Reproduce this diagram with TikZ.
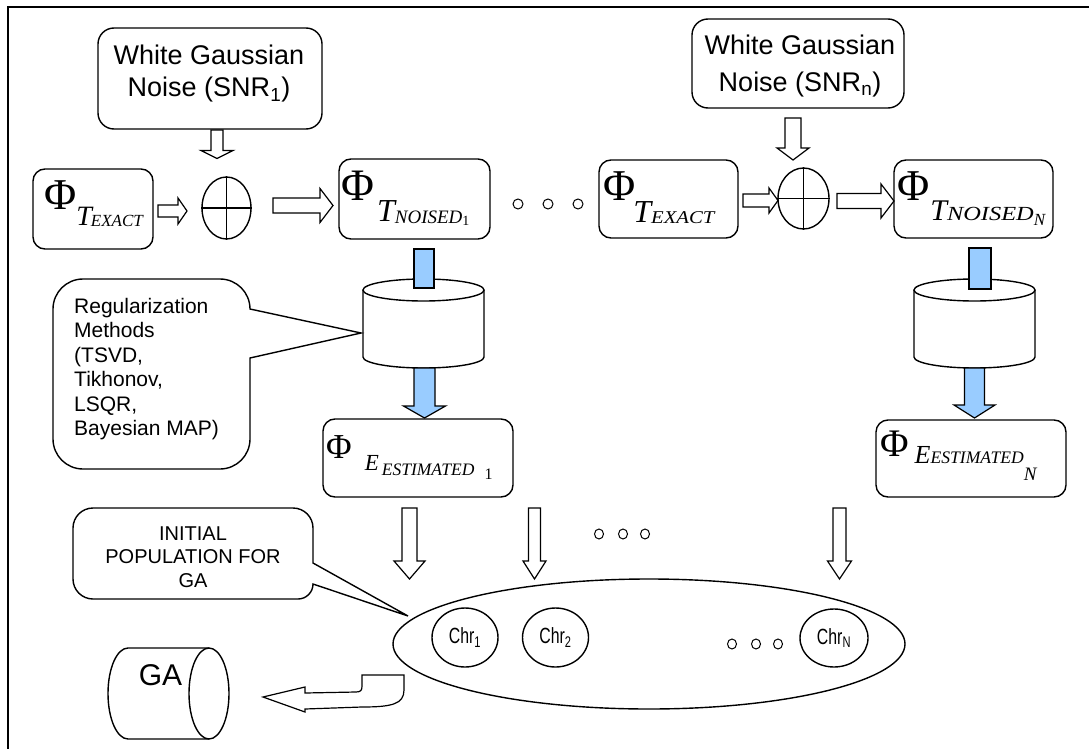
\documentclass[tikz,border=0pt]{standalone}
\usepackage{fontspec}
\usepackage{graphicx}
\setmainfont{Liberation Sans}
\newfontfamily\tms{Liberation Serif}
\newfontfamily\narrowsf[FakeStretch=0.72]{Liberation Sans}
\usetikzlibrary{calc,shapes.geometric}
\definecolor{lblue}{RGB}{153,204,255}
\newcommand\fs[2]{{\fontsize{#1}{#1}\selectfont #2}}
\newcommand\tsub[3]{\raisebox{-#1}{\itshape\fs{#2}{#3}}}
\newcommand\usub[3]{\raisebox{-#1}{\fs{#2}{#3}}}
% block arrow: [fill] {start}{end}{half shaft}{half head}{head length}
\newcommand\blk[6][white]{%
  \path ($#3!#6!#2$) coordinate (bkH);
  \draw[fill=#1, line width=1.2pt, line join=miter]
    ($#2!#4!90:#3$) -- ($(bkH)!#4!90:#3$) -- ($(bkH)!#5!90:#3$) -- #3
    -- ($(bkH)!#5!-90:#3$) -- ($(bkH)!#4!-90:#3$) -- ($#2!#4!-90:#3$) -- cycle;}
\begin{document}
\begin{tikzpicture}[x=1pt,y=-1pt,
  rbox/.style={draw, rounded corners=#1, line width=1.4pt, inner sep=0pt},
  rbox/.default=12pt,
  plusnode/.style={ellipse, draw, line width=1.4pt, inner sep=0pt},
  chr/.style={ellipse, draw, line width=1.4pt, inner sep=0pt, font=\narrowsf\fontsize{22}{22}\selectfont},
  dotc/.style={ellipse, draw, line width=1pt, inner sep=0pt, minimum width=9pt, minimum height=10pt},
  lab/.style={anchor=base west, inner sep=0pt},
  txt/.style={inner sep=0pt},
  shape line/.style={line width=1.4pt, fill=white},
]
\useasboundingbox (0,0) rectangle (1089,749);
% frame (top and left)
\draw[line width=1.5pt] (8,749) -- (8,7) -- (1089,7);

% noise boxes (base anchor = baseline of last line)
\node[rbox=16pt, minimum width=224pt, minimum height=101pt] (nz1) at (210,78.5) {};
\node[txt, anchor=base, align=center, font=\fontsize{27}{32}\selectfont] (nz1t) at (209,97)
  {White Gaussian\\Noise (SNR\textsubscript{1})};
\node[rbox=16pt, minimum width=212pt, minimum height=89pt] (nz2) at (798,63.5) {};
\node[txt, anchor=base, align=center, font=\fontsize{27}{37}\selectfont] (nz2t) at (800,92)
  {White Gaussian\\Noise (SNR\textsubscript{n})};

% phi boxes
\node[rbox, minimum width=120pt, minimum height=80pt] (ex1) at (93,209) {};
\node[lab] (ex1t) at (44,209) {\tms\fs{44}{Φ}\tsub{16pt}{28}{T}\kern-1pt\tsub{17pt}{17}{EXACT}};
\node[rbox, minimum width=151pt, minimum height=80pt] (no1) at (414.5,199) {};
\node[lab] (no1t) at (341,200) {\tms\fs{45}{Φ}\kern3pt\tsub{21pt}{32}{T}\tsub{23pt}{19}{NOISED}\usub{25pt}{14}{1}};
\node[rbox, minimum width=139pt, minimum height=78pt] (ex2) at (668.5,199) {};
\node[lab] (ex2t) at (603,200) {\tms\fs{44}{Φ}\kern-2pt\tsub{22pt}{32}{T}\raisebox{-23pt}{\scalebox{1.15}[1]{\itshape\fs{18}{EXACT}}}};
\node[rbox, minimum width=159pt, minimum height=78pt] (noN) at (973.5,199) {};
\node[lab] (noNt) at (897,200) {\tms\fs{44}{Φ}\kern1pt\tsub{20pt}{30}{T}\raisebox{-20pt}{\scalebox{1.22}[1]{\itshape\fs{20}{NOISED}}}\tsub{25pt}{17}{N}};

% plus circles
\node[plusnode, minimum width=49pt, minimum height=62pt] (pl1) at (226.5,208) {};
\draw[line width=1.4pt] (pl1.north) -- (pl1.south) (pl1.west) -- (pl1.east);
\node[plusnode, minimum width=51pt, minimum height=61pt] (pl2) at (803.5,198.5) {};
\draw[line width=1.4pt] (pl2.north) -- (pl2.south) (pl2.west) -- (pl2.east);

% dots in first row
\node[dotc, minimum width=10pt] (d1) at (518,204) {};
\node[dotc, minimum width=10pt] (d2) at (548,204) {};
\node[dotc, minimum width=10pt] (d3) at (578,204) {};

% hollow arrows, top row
\coordinate (a1s) at (217,130);   \coordinate (a1e) at (217,158.5);
\coordinate (a2s) at (158,211);   \coordinate (a2e) at (187,211);
\coordinate (a3s) at (273,205.5); \coordinate (a3e) at (333,205.5);
\coordinate (a4s) at (793,118);   \coordinate (a4e) at (793,160);
\coordinate (a5s) at (743,200.5); \coordinate (a5e) at (778,200.5);
\coordinate (a6s) at (837,201);   \coordinate (a6e) at (894,201);
\blk{(a1s)}{(a1e)}{6pt}{16pt}{8pt}
\blk{(a2s)}{(a2e)}{6pt}{13pt}{9pt}
\blk{(a3s)}{(a3e)}{7.5pt}{17pt}{13pt}
\blk{(a4s)}{(a4e)}{8pt}{16pt}{12pt}
\blk{(a5s)}{(a5e)}{6.5pt}{12.5pt}{9pt}
\blk{(a6s)}{(a6e)}{7.5pt}{17pt}{13pt}

% cylinders
\node[minimum width=121pt, minimum height=89pt, inner sep=0pt] (cy1) at (423.5,323.5) {};
\draw[shape line] (363,290) -- (363,357) arc[start angle=180,end angle=360,x radius=60.5pt,y radius=11pt] -- (484,290);
\draw[shape line] (423.5,290) ellipse[x radius=60.5pt,y radius=11pt];
\node[minimum width=121pt, minimum height=89pt, inner sep=0pt] (cy2) at (974.5,323.5) {};
\draw[shape line] (914,290) -- (914,357) arc[start angle=180,end angle=360,x radius=60.5pt,y radius=11pt] -- (1035,290);
\draw[shape line] (974.5,290) ellipse[x radius=60.5pt,y radius=11pt];

% blue connectors
\draw[fill=lblue, line width=1.2pt] (414,249) rectangle (434,288);
\draw[fill=lblue, line width=1.2pt] (969,248) rectangle (991,289);
\coordinate (c1s) at (424.5,368); \coordinate (c1e) at (424.5,418);
\coordinate (c2s) at (974.5,368); \coordinate (c2e) at (974.5,418);
\blk[lblue]{(c1s)}{(c1e)}{10.5pt}{21pt}{12pt}
\blk[lblue]{(c2s)}{(c2e)}{10pt}{20.5pt}{13pt}

% estimated boxes
\node[rbox, minimum width=190pt, minimum height=78pt] (es1) at (418,458) {};
\node[lab] (es1t) at (326,458) {\tms\fs{35}{Φ}\kern13pt\tsub{12pt}{23}{E}\kern3pt\tsub{17pt}{17.5}{ESTIMATED}\kern10pt\usub{21pt}{16}{1}};
\node[rbox, minimum width=190pt, minimum height=77pt] (esN) at (971,458.5) {};
\node[lab] (esNt) at (880,456) {\tms\fs{39}{Φ}\kern6pt\tsub{7pt}{26}{E}\tsub{7pt}{17.6}{ESTIMATED}\tsub{24pt}{19}{N}};

% regularization callout
\draw[shape line] (250,358) -- (250,439) arc[start angle=0,end angle=-90,radius=30pt] -- (83,469)
  arc[start angle=270,end angle=180,radius=30pt] -- (53,309)
  arc[start angle=180,end angle=90,radius=30pt] -- (220,279)
  arc[start angle=90,end angle=0,radius=30pt] -- (361,333) -- cycle;
\node[txt, anchor=base west, align=left, font=\fontsize{21}{24.5}\selectfont] (regt) at (74,435.5)
  {Regularization\\Methods\\(TSVD,\\Tikhonov,\\LSQR,\\Bayesian MAP)};

% lower arrows and dots
\coordinate (b1s) at (409.5,508); \coordinate (b1e) at (409.5,579);
\coordinate (b2s) at (534.5,508); \coordinate (b2e) at (534.5,579);
\coordinate (b3s) at (839.5,508); \coordinate (b3e) at (839.5,579);
\blk{(b1s)}{(b1e)}{7.5pt}{15.5pt}{18pt}
\blk{(b2s)}{(b2e)}{6pt}{11.5pt}{18pt}
\blk{(b3s)}{(b3e)}{6.5pt}{12pt}{18pt}
\node[dotc] (e1) at (599,534) {};
\node[dotc] (e2) at (623,534) {};
\node[dotc] (e3) at (645,534) {};

% population ellipse
\node[ellipse, draw, line width=1.4pt, minimum width=512pt, minimum height=130pt, inner sep=0pt] (pop) at (649,644) {};
\node[chr, minimum width=66pt, minimum height=59pt] (chr1) at (465,637.5) {Chr\textsubscript{1}};
\node[chr, minimum width=66pt, minimum height=59pt] (chr2) at (555.5,637.5) {Chr\textsubscript{2}};
\node[chr, minimum width=68pt, minimum height=58pt] (chrN) at (834,638) {Chr\textsubscript{N}};
\node[dotc] (f1) at (732,644) {};
\node[dotc] (f2) at (756,644) {};
\node[dotc] (f3) at (778,644) {};

% initial population callout
\draw[shape line] (313,584) arc[start angle=0,end angle=-90,radius=15pt] -- (93,599)
  arc[start angle=270,end angle=180,radius=20pt] -- (73,528)
  arc[start angle=180,end angle=90,radius=20pt] -- (293,508)
  arc[start angle=90,end angle=0,radius=20pt] -- (313,563) -- (408,616) -- cycle;
\node[txt, anchor=base, align=center, font=\fontsize{20}{23.5}\selectfont] (popt) at (193,587)
  {INITIAL\\POPULATION FOR\\GA};

% GA cylinder
\node[minimum width=121pt, minimum height=91pt, inner sep=0pt] (ga) at (168.5,693.5) {};
\draw[line width=1.4pt] (128,648) -- (209,648) (209,739) -- (128,739)
  arc[start angle=270,end angle=90,x radius=20pt,y radius=45.5pt];
\draw[line width=1.4pt] (209,693.5) ellipse[x radius=20pt,y radius=45.5pt];
\node[txt, anchor=base] (gat) at (160.5,685) {\fs{30}{GA}};

% bent arrow from population to GA
\draw[line width=1.2pt, fill=white, line join=miter] (362,675) -- (404,675) -- (404,690)
  .. controls (404,704) and (392,707) .. (362,707) -- (305,709) -- (305,712) -- (263,697)
  -- (305,687) -- (305,693) -- (356,692) .. controls (361,692) and (362,690) .. (362,686) -- cycle;
\end{tikzpicture}
\end{document}
